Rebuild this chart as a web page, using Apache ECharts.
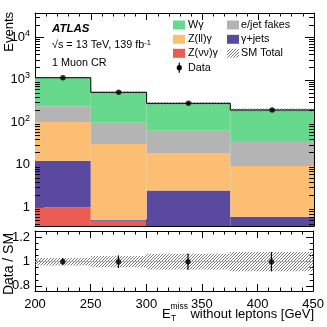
<!DOCTYPE html>
<html>
<head>
<meta charset="utf-8">
<script src="https://cdn.jsdelivr.net/npm/echarts@6/dist/echarts.min.js"></script>
<style>
    html, body { margin: 0; padding: 0; background: #fff; }
    #chart { width: 327px; height: 327px; }
</style>
</head>
<body>
<div id="chart"></div>
<script>
// bin edges in GeV (variable width)
const binEdges = [200, 250, 300, 375, 450];

// event yields per process, stacked bottom -> top
const zvvVals = [1.0, 0.48, 0.25, 0.15];
const gjetVals = [11.5, 0.02, 2.25, 0.45];
const zllVals = [89.5, 30.5, 16.5, 8.8];
const fakeVals = [138, 67, 44.6, 26.9];
const wgVals = [880, 410, 216, 159];

const dataVals = [1120, 508, 280, 195];
const dataErr = [34, 23, 17, 14];
const smRelErr = [0.031, 0.046, 0.065, 0.08];

const ratioVals = [1.0, 1.0, 1.0, 1.0];
const ratioErr = [0.03, 0.052, 0.067, 0.08];

const yMin = 0.363;
const yMax = 37300;

const font = "Liberation Sans, Arial, Helvetica, sans-serif";

const layers = [
    { name: "Z(νν)γ", vals: zvvVals, color: "#ea5b51" },
    { name: "γ+jets", vals: gjetVals, color: "#5a4a9f" },
    { name: "Z(ll)γ", vals: zllVals, color: "#fcbe72" },
    { name: "e/jet fakes", vals: fakeVals, color: "#b4b4b4" },
    { name: "Wγ", vals: wgVals, color: "#67d98d" },
];

// hatch pattern for the uncertainty bands
function makeHatch() {
    const n = 3;
    const c = document.createElement("canvas");
    c.width = n;
    c.height = n;
    const ctx = c.getContext("2d");
    ctx.strokeStyle = "#707070";
    ctx.lineWidth = 0.9;
    ctx.beginPath();
    ctx.moveTo(-1, n + 1);
    ctx.lineTo(n + 1, -1);
    ctx.moveTo(-1, 1);
    ctx.lineTo(1, -1);
    ctx.moveTo(n - 1, n + 1);
    ctx.lineTo(n + 1, n - 1);
    ctx.stroke();
    return c;
}
const hatch = { image: makeHatch(), repeat: "repeat" };

const centers = binEdges.slice(0, -1).map((e, i) => (e + binEdges[i + 1]) / 2);

function clipRect(r, cs) {
    return echarts.graphic.clipRectByRect(r, { x: cs.x, y: cs.y, width: cs.width, height: cs.height });
}

const series = [];
let cum = [0, 0, 0, 0];
layers.forEach((layer) => {
    const d = layer.vals.map((v, i) => [binEdges[i], binEdges[i + 1], cum[i], cum[i] + v]);
    cum = cum.map((c, i) => c + layer.vals[i]);
    series.push({
        name: layer.name,
        type: "custom",
        xAxisIndex: 0,
        yAxisIndex: 0,
        encode: { x: [0, 1], y: 3 },
        data: d,
        renderItem: (params, api) => {
            const cs = params.coordSys;
            const lo = api.value(2);
            const hi = api.value(3);
            const p0 = api.coord([api.value(0), hi]);
            const p1 = api.coord([api.value(1), hi]);
            const yLo = lo > 0 ? api.coord([api.value(0), lo])[1] : cs.y + cs.height;
            const shape = clipRect({ x: p0[0], y: p0[1], width: p1[0] - p0[0], height: yLo - p0[1] }, cs);
            return shape && { type: "rect", shape, style: { fill: layer.color } };
        },
    });
});

const totals = cum;

// SM total: hatched band + outline
series.push({
    type: "custom",
    xAxisIndex: 0,
    yAxisIndex: 0,
    encode: { x: [0, 1], y: 2 },
    z: 5,
    data: totals.map((t, i) => [binEdges[i], binEdges[i + 1], t, i > 0 ? totals[i - 1] : t, smRelErr[i]]),
    renderItem: (params, api) => {
        const cs = params.coordSys;
        const t = api.value(2);
        const e = api.value(4);
        const a = api.coord([api.value(0), t * (1 + e)]);
        const b = api.coord([api.value(1), t * (1 - e)]);
        const c = api.coord([api.value(0), t]);
        const d = api.coord([api.value(1), t]);
        const prev = api.coord([api.value(0), api.value(3)]);
        const band = clipRect({ x: a[0], y: a[1], width: b[0] - a[0], height: b[1] - a[1] }, cs);
        const children = [];
        if (band) children.push({ type: "rect", shape: band, style: { fill: hatch } });
        children.push({ type: "line", shape: { x1: c[0], y1: c[1], x2: d[0], y2: d[1] }, style: { stroke: "#000", lineWidth: 1 } });
        children.push({ type: "line", shape: { x1: c[0], y1: prev[1], x2: c[0], y2: c[1] }, style: { stroke: "#000", lineWidth: 1 } });
        return { type: "group", children };
    },
});

function errBarSeries(xi, yi, vals, errs) {
    return {
        type: "custom",
        xAxisIndex: xi,
        yAxisIndex: yi,
        encode: { x: 0, y: 1 },
        z: 8,
        data: vals.map((v, i) => [centers[i], v, errs[i]]),
        renderItem: (params, api) => {
            const top = api.coord([api.value(0), api.value(1) + api.value(2)]);
            const bot = api.coord([api.value(0), api.value(1) - api.value(2)]);
            return {
                type: "line",
                shape: { x1: top[0], y1: top[1], x2: bot[0], y2: bot[1] },
                style: { stroke: "#000", lineWidth: 1.2 },
            };
        },
    };
}

series.push(errBarSeries(0, 0, dataVals, dataErr));
series.push({
    name: "Data",
    type: "scatter",
    xAxisIndex: 0,
    yAxisIndex: 0,
    symbolSize: 5.5,
    z: 9,
    itemStyle: { color: "#000" },
    data: dataVals.map((v, i) => [centers[i], v]),
});

// log minor ticks (2..9 x 10^k) on both sides of the main panel
const logMinorTicks = [];
for (let k = -1; k <= 4; k++) {
    for (let m = 2; m <= 9; m++) {
        const v = m * Math.pow(10, k);
        if (v > yMin && v < yMax) logMinorTicks.push(v);
    }
}
series.push({
    type: "custom",
    xAxisIndex: 0,
    yAxisIndex: 0,
    encode: { y: 0 },
    z: 10,
    silent: true,
    data: logMinorTicks.map((v) => [v]),
    renderItem: (params, api) => {
        const cs = params.coordSys;
        const y = Math.round(api.coord([200, api.value(0)])[1]) + 0.5;
        return {
            type: "group",
            children: [
                { type: "line", shape: { x1: cs.x, y1: y, x2: cs.x + 5, y2: y }, style: { stroke: "#000", lineWidth: 1 } },
                { type: "line", shape: { x1: cs.x + cs.width - 5, y1: y, x2: cs.x + cs.width, y2: y }, style: { stroke: "#000", lineWidth: 1 } },
            ],
        };
    },
});

// ratio panel: SM uncertainty band + line at 1
series.push({
    type: "custom",
    xAxisIndex: 2,
    yAxisIndex: 2,
    encode: { x: [0, 1], y: 2 },
    data: smRelErr.map((e, i) => [binEdges[i], binEdges[i + 1], 1, e]),
    renderItem: (params, api) => {
        const e = api.value(3);
        const a = api.coord([api.value(0), 1 + e]);
        const b = api.coord([api.value(1), 1 - e]);
        const m = api.coord([api.value(0), 1]);
        return {
            type: "group",
            children: [
                { type: "rect", shape: { x: a[0], y: a[1], width: b[0] - a[0], height: b[1] - a[1] }, style: { fill: hatch } },
                { type: "line", shape: { x1: a[0], y1: m[1], x2: b[0], y2: m[1] }, style: { stroke: "#aaa", lineWidth: 1 } },
            ],
        };
    },
});
series.push(errBarSeries(2, 2, ratioVals, ratioErr));
series.push({
    type: "scatter",
    xAxisIndex: 2,
    yAxisIndex: 2,
    symbolSize: 5.5,
    z: 9,
    itemStyle: { color: "#000" },
    data: ratioVals.map((v, i) => [centers[i], v]),
});

const axisLine = { show: true, lineStyle: { color: "#000", width: 1 } };

function xAx(grid, pos, labels) {
    return {
        type: "value",
        gridIndex: grid,
        position: pos,
        min: 200,
        max: 450,
        interval: 50,
        axisLine,
        axisTick: { inside: true, length: 7, lineStyle: { color: "#000" } },
        minorTick: { show: true, splitNumber: 5, length: 3.5, lineStyle: { color: "#000" } },
        splitLine: { show: false },
        axisLabel: { show: labels, color: "#000", fontSize: 13, fontFamily: font, margin: 7 },
    };
}

function logAx(pos, labels) {
    return {
        type: "log",
        logBase: 10,
        gridIndex: 0,
        position: pos,
        min: yMin,
        max: yMax,
        axisLine,
        axisTick: { inside: true, length: 9, lineStyle: { color: "#000" } },
        splitLine: { show: false },
        axisLabel: {
            show: labels,
            showMinLabel: false,
            showMaxLabel: false,
            color: "#000",
            fontSize: 13,
            fontFamily: font,
            margin: 5,
            formatter: (v) => {
                const p = Math.round(Math.log10(v));
                if (p === 0) return "1";
                if (p === 1) return "10";
                return "10{s|" + p + "}";
            },
            rich: { s: { fontSize: 9, fontFamily: font, color: "#000", padding: [0, 0, 8, 0] } },
        },
    };
}

function ratioAx(pos, labels) {
    return {
        type: "value",
        gridIndex: 1,
        position: pos,
        min: 0.758,
        max: 1.253,
        splitNumber: 3,
        axisLine,
        axisTick: { inside: true, length: 7, lineStyle: { color: "#000" } },
        minorTick: { show: true, splitNumber: 4, length: 3.5, lineStyle: { color: "#000" } },
        splitLine: { show: false },
        axisLabel: {
            show: labels,
            showMinLabel: false,
            showMaxLabel: false,
            color: "#000",
            fontSize: 13,
            fontFamily: font,
            margin: 5,
            formatter: (v) => String(Math.round(v * 10) / 10),
        },
    };
}

// legend drawn by hand, two columns like the ROOT legend
const legendCol1 = [layers[4], layers[2], layers[0]];
const legendCol2 = [layers[3], layers[1]];
const legendRows = [25, 39.3, 53.3, 67.7];
const legendText = (x, y, text) => ({
    type: "text",
    x,
    y,
    style: { text, fill: "#000", fontSize: 10.8, fontFamily: font, textVerticalAlign: "middle" },
});
const graphics = [];
legendCol1.forEach((l, i) => {
    graphics.push({ type: "rect", shape: { x: 173, y: legendRows[i] - 4.5, width: 12, height: 9 }, style: { fill: l.color } });
    graphics.push(legendText(188, legendRows[i], l.name));
});
legendCol2.forEach((l, i) => {
    graphics.push({ type: "rect", shape: { x: 227, y: legendRows[i] - 4.5, width: 12, height: 9 }, style: { fill: l.color } });
    graphics.push(legendText(241, legendRows[i], l.name));
});
graphics.push({ type: "rect", shape: { x: 227, y: legendRows[2] - 4.5, width: 12, height: 9 }, style: { fill: hatch } });
graphics.push(legendText(241, legendRows[2], "SM Total"));
graphics.push({ type: "line", shape: { x1: 179.3, y1: legendRows[3] - 5, x2: 179.3, y2: legendRows[3] + 5 }, style: { stroke: "#000", lineWidth: 1.2 } });
graphics.push({ type: "circle", shape: { cx: 179.3, cy: legendRows[3], r: 2.6 }, style: { fill: "#000" } });
graphics.push(legendText(188, legendRows[3], "Data"));

// ATLAS labels
graphics.push({
    type: "text",
    x: 52,
    y: 28.5,
    style: { text: "ATLAS", fill: "#000", fontSize: 11.5, fontWeight: "bold", fontStyle: "italic", fontFamily: font, textVerticalAlign: "middle" },
});
graphics.push({
    type: "text",
    x: 52,
    y: 45.5,
    style: {
        text: "√s = 13 TeV, 139 fb{s|-1}",
        fill: "#000",
        fontSize: 10.8,
        fontFamily: font,
        textVerticalAlign: "middle",
        rich: { s: { fontSize: 7.5, fontFamily: font, fill: "#000", padding: [0, 0, 6, 0] } },
    },
});
graphics.push({
    type: "text",
    x: 52,
    y: 63.5,
    style: { text: "1 Muon CR", fill: "#000", fontSize: 10.8, fontFamily: font, textVerticalAlign: "middle" },
});

// axis titles
graphics.push({
    type: "text",
    x: 9,
    y: 12,
    rotation: Math.PI / 2,
    style: { text: "Events", fill: "#000", fontSize: 13, fontFamily: font, textAlign: "right", textVerticalAlign: "middle" },
});
graphics.push({
    type: "text",
    x: 9,
    y: 264,
    rotation: Math.PI / 2,
    style: { text: "Data / SM", fill: "#000", fontSize: 14, fontFamily: font, textAlign: "center", textVerticalAlign: "middle" },
});
graphics.push({
    type: "text",
    x: 162,
    y: 314,
    style: { text: "E", fill: "#000", fontSize: 13, fontFamily: font, textVerticalAlign: "middle" },
});
graphics.push({
    type: "text",
    x: 171,
    y: 319,
    style: { text: "T", fill: "#000", fontSize: 8.5, fontFamily: font, textVerticalAlign: "middle" },
});
graphics.push({
    type: "text",
    x: 170.5,
    y: 307,
    style: { text: "miss", fill: "#000", fontSize: 8.5, fontFamily: font, textVerticalAlign: "middle" },
});
graphics.push({
    type: "text",
    x: 314,
    y: 314,
    style: { text: "without leptons [GeV]", fill: "#000", fontSize: 13, fontFamily: font, textAlign: "right", textVerticalAlign: "middle" },
});

const option = {
    animation: false,
    backgroundColor: "#fff",
    textStyle: { fontFamily: font },
    grid: [
        { left: 35, top: 13, width: 279, height: 213 },
        { left: 35, top: 231, width: 279, height: 60 },
    ],
    xAxis: [xAx(0, "bottom", false), xAx(0, "top", false), xAx(1, "bottom", true), xAx(1, "top", false)],
    yAxis: [logAx("left", true), logAx("right", false), ratioAx("left", true), ratioAx("right", false)],
    series,
    graphic: graphics,
};

const chart = echarts.init(document.getElementById("chart"), null, { renderer: "canvas" });
chart.setOption(option);
</script>
</body>
</html>
